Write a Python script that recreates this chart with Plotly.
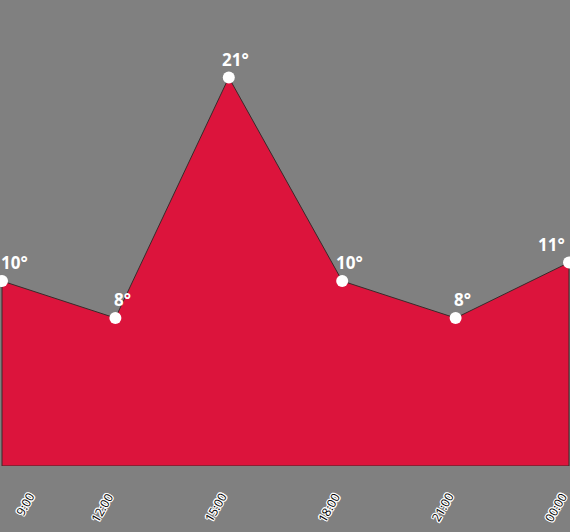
import plotly.graph_objects as go

hours = ["9:00", "12:00", "15:00", "18:00", "21:00", "00:00"]
temps = [10, 8, 21, 10, 8, 11]
labels = [f"{t}°" for t in temps]

xs = list(range(len(hours)))
n = len(hours)

W, H = 570, 532
fig = go.Figure()

# filled area polygon (closed to the baseline)
fig.add_trace(go.Scatter(
    x=xs + [xs[-1], xs[0], xs[0]],
    y=temps + [0, 0, temps[0]],
    mode="lines",
    fill="toself",
    fillcolor="#DC143C",
    line=dict(color="#3a2a2a", width=1),
    hoverinfo="skip",
))

# markers
fig.add_trace(go.Scatter(
    x=xs, y=temps, mode="markers",
    marker=dict(color="white", size=12, line=dict(width=0)),
    cliponaxis=False,
))

annotations = []
for i, (x, t, lab) in enumerate(zip(xs, temps, labels)):
    shift = 7
    if i == 0:
        shift = 12
    elif i == n - 1:
        shift = -18
    annotations.append(dict(
        x=x, y=t, text=f"<b>{lab}</b>", showarrow=False,
        xanchor="center", yanchor="bottom", xshift=shift, yshift=5,
        font=dict(family="Open Sans, DejaVu Sans, sans-serif", size=17, color="white"),
    ))

shadow = ("1px 0px 0px white, -1px 0px 0px white, 0px 1px 0px white, 0px -1px 0px white, "
          "1px 1px 0px white, -1px -1px 0px white, 1px -1px 0px white, -1px 1px 0px white")
for i, (x, h) in enumerate(zip(xs, hours)):
    a = dict(
        x=x, y=0, text=h, showarrow=False, textangle=-60,
        xanchor="right", yanchor="top", yshift=-22, xshift=3,
        borderpad=0,
        font=dict(family="Open Sans, DejaVu Sans, sans-serif", size=12, color="black", shadow=shadow),
    )
    if i == 0:
        a["xanchor"] = "left"
        a["xshift"] = 8
    annotations.append(a)

fig.update_layout(
    width=W, height=H,
    margin=dict(l=0, r=0, t=0, b=66, pad=0),
    paper_bgcolor="#808080",
    plot_bgcolor="#808080",
    showlegend=False,
    annotations=annotations,
    xaxis=dict(range=[-2 / 113.4, 5 + 1 / 113.4], showgrid=False, zeroline=False,
               showticklabels=False, ticks="", fixedrange=True),
    yaxis=dict(range=[0, 25.19], showgrid=False, zeroline=False,
               showticklabels=False, ticks="", fixedrange=True),
)

fig.write_html(
    "out.html",
    config={"displayModeBar": False},
    post_script="document.body.style.margin='0';document.body.style.overflow='hidden';",
)
